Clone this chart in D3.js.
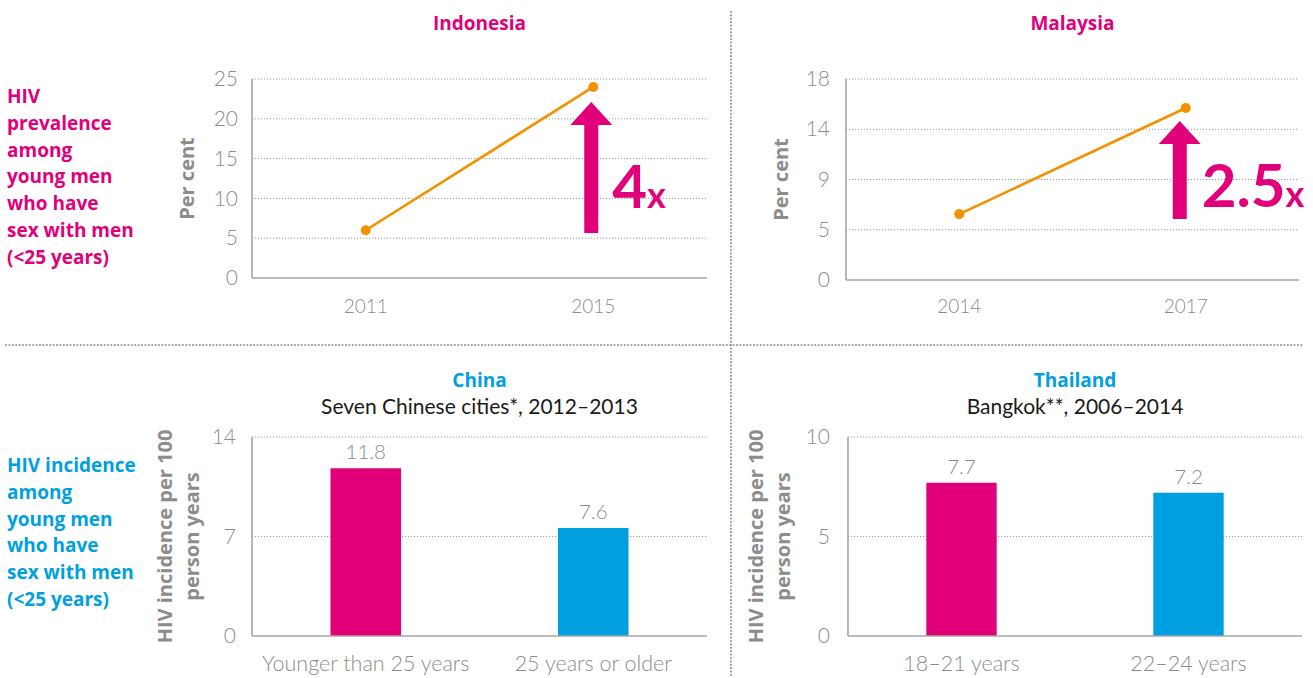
<!DOCTYPE html>
<html><head><meta charset="utf-8">
<script src="https://cdn.jsdelivr.net/npm/d3@7"></script>
<style>
html,body{margin:0;padding:0;background:#fff;}
</style></head>
<body>
<svg id="chart" width="1313" height="678" font-family="Lato, sans-serif"></svg>
<script>
// ---- data ----
const indonesiaYears = ["2011", "2015"];
const indonesiaValues = [6, 24];
const indonesiaTicks = [0, 5, 10, 15, 20, 25];

const malaysiaYears = ["2014", "2017"];
const malaysiaValues = [5.9, 15.4];
const malaysiaTicks = [0, 4.5, 9, 13.5, 18];

const chinaCategories = ["Younger than 25 years", "25 years or older"];
const chinaValues = [11.8, 7.6];
const chinaTicks = [0, 7, 14];

const thailandCategories = ["18–21 years", "22–24 years"];
const thailandValues = [7.7, 7.2];
const thailandTicks = [0, 5, 10];

const prevalenceLabel = ["HIV", "prevalence", "among", "young men", "who have", "sex with men", "(<25 years)"];
const incidenceLabel = ["HIV incidence", "among", "young men", "who have", "sex with men", "(<25 years)"];

const MAGENTA = "#E2007A", BLUE = "#009FDF", ORANGE = "#F39200";
const GRAY = "#8c8c8c", AXIS = "#a6a6a6";
const BOLDFONT = "'Open Sans', 'Noto Sans', sans-serif";
const LIGHTFONT = "Lato, sans-serif";

const svg = d3.select("#chart");

// separators
svg.append("line").attr("x1", 731).attr("x2", 731).attr("y1", 12).attr("y2", 678)
  .attr("stroke", "#9a9a9a").attr("stroke-width", 2.2).attr("stroke-linecap", "round").attr("stroke-dasharray", "0,3.4");
svg.append("line").attr("x1", 6).attr("x2", 1302).attr("y1", 345).attr("y2", 345)
  .attr("stroke", "#9a9a9a").attr("stroke-width", 2.2).attr("stroke-linecap", "round").attr("stroke-dasharray", "0,3.4");

// side labels
function sideLabel(lines, y0, color) {
  const t = svg.append("text").attr("x", 7).attr("y", y0).attr("fill", color)
    .style("font-family", BOLDFONT).attr("font-size", 19).attr("font-weight", 700);
  lines.forEach((l, i) => t.append("tspan").attr("x", 7).attr("y", y0 + i * 26.8).text(l));
}
sideLabel(prevalenceLabel, 103, MAGENTA);
sideLabel(incidenceLabel, 472, BLUE);

function panel(cfg) {
  const g = svg.append("g");
  const y = d3.scaleLinear().domain([cfg.ticks[0], cfg.ticks[cfg.ticks.length - 1]]).range([cfg.bottom, cfg.top]);
  const x = d3.scaleBand().domain(cfg.cats).range([cfg.left, cfg.right]).paddingInner(0.69).paddingOuter(0.345);
  const cx = c => x(c) + x.bandwidth() / 2;

  // grid
  g.selectAll(".grid").data(cfg.ticks.slice(1)).join("line")
    .attr("x1", cfg.left).attr("x2", cfg.right)
    .attr("y1", d => y(d)).attr("y2", d => y(d))
    .attr("stroke", "#9a9a9a").attr("stroke-width", 1).attr("stroke-dasharray", "1.2,1.8");

  // y axis labels
  const ya = d3.axisLeft(y).tickValues(cfg.ticks).tickSize(0).tickPadding(cfg.tickPad)
    .tickFormat(d => String(Math.round(d)));
  const yg = g.append("g").attr("transform", `translate(${cfg.left},0)`).call(ya);
  yg.select(".domain").remove();
  yg.selectAll("text").attr("fill", GRAY).attr("font-size", 21).attr("font-weight", 300)
    .style("font-family", LIGHTFONT);

  // x axis labels
  const xa = d3.axisBottom(x).tickSize(0).tickPadding(cfg.xPad);
  const xg = g.append("g").attr("transform", `translate(0,${cfg.bottom})`).call(xa);
  xg.select(".domain").remove();
  xg.selectAll("text").attr("fill", GRAY).attr("font-size", cfg.xFont).attr("font-weight", 300)
    .style("font-family", LIGHTFONT);

  // marks
  if (cfg.type === "line") {
    const pts = cfg.cats.map((c, i) => [cx(c), y(cfg.values[i])]);
    g.append("path").attr("d", d3.line()(pts)).attr("fill", "none")
      .attr("stroke", ORANGE).attr("stroke-width", 2.6);
    g.selectAll(".pt").data(pts).join("circle").attr("cx", d => d[0]).attr("cy", d => d[1])
      .attr("r", 5).attr("fill", ORANGE);
    // arrow annotation
    const ax = cx(cfg.cats[1]) + cfg.arrow.dx;
    const yb = y(cfg.arrow.from), yt = y(cfg.arrow.to);
    const headH = 23, headW = 21, shaftW = 7;
    g.append("path").attr("fill", MAGENTA).attr("d",
      `M${ax - shaftW},${yb} L${ax - shaftW},${yt + headH} L${ax - headW},${yt + headH} L${ax},${yt} L${ax + headW},${yt + headH} L${ax + shaftW},${yt + headH} L${ax + shaftW},${yb} Z`);
    const t = g.append("text").attr("x", ax + cfg.arrow.tx).attr("y", cfg.arrow.ty).attr("fill", MAGENTA)
      .attr("font-weight", 700).style("font-family", LIGHTFONT);
    t.append("tspan").attr("font-size", 60).text(cfg.arrow.label);
    t.append("tspan").attr("font-size", 36).attr("dx", 0).text("x");
  } else {
    g.selectAll(".bar").data(cfg.cats).join("rect")
      .attr("x", d => x(d)).attr("width", x.bandwidth())
      .attr("y", (d, i) => y(cfg.values[i])).attr("height", (d, i) => cfg.bottom - y(cfg.values[i]))
      .attr("fill", (d, i) => i === 0 ? MAGENTA : BLUE);
    g.selectAll(".vl").data(cfg.cats).join("text")
      .attr("x", d => cx(d)).attr("y", (d, i) => y(cfg.values[i]) - 9)
      .attr("text-anchor", "middle").attr("fill", GRAY).attr("font-size", 20.5).attr("font-weight", 300)
      .style("font-family", LIGHTFONT)
      .text((d, i) => cfg.values[i].toFixed(1));
  }

  // axis lines
  g.append("line").attr("x1", cfg.left).attr("x2", cfg.left).attr("y1", cfg.top).attr("y2", cfg.bottom)
    .attr("stroke", AXIS).attr("stroke-width", 1.6);
  g.append("line").attr("x1", cfg.left).attr("x2", cfg.right).attr("y1", cfg.bottom).attr("y2", cfg.bottom)
    .attr("stroke", AXIS).attr("stroke-width", 1.6);

  // y title
  const yt = g.append("text").attr("transform", `translate(${cfg.yTitleX},${(cfg.top + cfg.bottom) / 2}) rotate(-90)`)
    .attr("text-anchor", "middle").attr("fill", GRAY).attr("font-size", 20).attr("font-weight", 700)
    .style("font-family", BOLDFONT);
  cfg.yTitle.forEach((l, i) => yt.append("tspan").attr("x", 0).attr("y", i * 27 - (cfg.yTitle.length - 1) * 27 / 2 + 7).text(l));

  // titles
  const mid = (cfg.left + cfg.right) / 2;
  g.append("text").attr("x", mid).attr("y", cfg.titleY).attr("text-anchor", "middle")
    .attr("fill", cfg.titleColor).attr("font-size", 19).attr("font-weight", 700)
    .style("font-family", BOLDFONT).text(cfg.title);
  if (cfg.subtitle) {
    g.append("text").attr("x", mid).attr("y", cfg.titleY + 27).attr("text-anchor", "middle")
      .attr("fill", "#1a1a1a").attr("font-size", 21).attr("font-weight", 400)
      .style("font-family", LIGHTFONT).text(cfg.subtitle);
  }
}

panel({type: "line", cats: indonesiaYears, values: indonesiaValues, ticks: indonesiaTicks,
  left: 252, right: 707, top: 79, bottom: 278, tickPad: 14, xPad: 22, xFont: 19,
  yTitle: ["Per cent"], yTitleX: 187, title: "Indonesia", titleColor: MAGENTA, titleY: 30,
  arrow: {from: 5.65, to: 22.1, dx: -2, label: "4", tx: 21, ty: 208}});

panel({type: "line", cats: malaysiaYears, values: malaysiaValues, ticks: malaysiaTicks,
  left: 846, right: 1299, top: 79, bottom: 280, tickPad: 16, xPad: 20, xFont: 19,
  yTitle: ["Per cent"], yTitleX: 781, title: "Malaysia", titleColor: MAGENTA, titleY: 30,
  arrow: {from: 5.46, to: 14.24, dx: -6, label: "2.5", tx: 22, ty: 207}});

panel({type: "bar", cats: chinaCategories, values: chinaValues, ticks: chinaTicks,
  left: 252, right: 707, top: 437, bottom: 636, tickPad: 16, xPad: 20, xFont: 21.5,
  yTitle: ["HIV incidence per 100", "person years"], yTitleX: 178, title: "China", titleColor: BLUE, titleY: 387,
  subtitle: "Seven Chinese cities*, 2012–2013"});

panel({type: "bar", cats: thailandCategories, values: thailandValues, ticks: thailandTicks,
  left: 848, right: 1302, top: 437, bottom: 636, tickPad: 18, xPad: 20, xFont: 21.5,
  yTitle: ["HIV incidence per 100", "person years"], yTitleX: 769, title: "Thailand", titleColor: BLUE, titleY: 387,
  subtitle: "Bangkok**, 2006–2014"});
</script>
</body></html>
